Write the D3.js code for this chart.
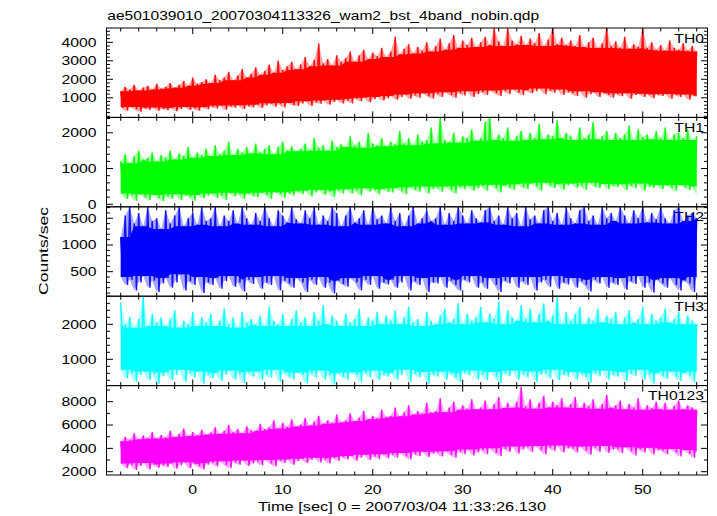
<!DOCTYPE html>
<html><head><meta charset="utf-8">
<script src="https://cdn.jsdelivr.net/npm/d3@7"></script>
<style>body{margin:0;background:#fff}svg{display:block}</style>
</head><body>
<svg id="c" width="717" height="516"></svg>
<script>
// ---- data: light-curve min/max envelopes per 0.5 s bin, from t = -8 s to 56 s ----
const tStart = -8, tStep = 0.5;
const titleText = "ae501039010_20070304113326_wam2_bst_4band_nobin.qdp";
const xLabel = "Time [sec] 0 = 2007/03/04 11:33:26.130";
const yLabel = "Counts/sec";
const seriesNames = ["TH0", "TH1", "TH2", "TH3", "TH0123"];
const seriesColors = ["#ff0000", "#00ff00", "#0000ff", "#00ffff", "#ff00ff"];
const xMajorTicks = [0, 10, 20, 30, 40, 50];

const th0Hi = [1350,1600,1450,1700,1400,1550,1650,1450,1750,1500, 1600,1800,1550,1700,1900,1650,2100,1750,1850,2000,
 1800,2250,1950,2100,2400,1950,2200,2550,2100,2300, 2650,2250,2450,2800,2350,3000,2500,2700,2950,2550,
 2800,3200,2700,3050,3950,2850,3100,2750,3300,2950, 3150,3500,2950,3300,3600,3100,3450,3250,3700,3200,
 3500,4300,3350,3650,3900,3400,3750,3550,4000,3500, 3800,4200,3600,3950,4400,3700,4100,3850,4250,3750,
 4000,4300,3850,4780,4050,3800,4780,4100,3900,4350, 3850,4200,3950,4500,3800,4150,4780,3900,4250,3850,
 4100,3800,4400,3750,4000,4250,3700,3950,4780,3800, 4050,3700,4300,3650,3900,3750,4780,3700,4000,3600,
 3850,3550,4100,3700,3600,3950,3550,3800,3500];
const th0Lo = [450,300,500,380,250,420,350,480,300,400, 330,450,280,400,500,350,420,300,480,380,
 500,420,580,350,520,460,600,400,550,480, 620,450,580,700,520,650,480,720,600,560,
 700,820,560,750,680,850,620,780,900,700, 850,700,950,820,1000,760,920,1050,850,980,
 1100,900,1050,1180,950,1120,1000,1250,1080,950, 1200,1050,1300,1150,1000,1250,1120,1350,1050,1200,
 1300,1150,1400,1250,1100,1350,1200,1450,1280,1150, 1400,1250,1350,1500,1200,1380,1280,1450,1150,1300,
 1250,1100,1350,1000,1200,1300,1050,1250,1150,1000, 1200,1080,1250,950,1150,1220,1050,1180,980,1150,
 1100,1200,950,1150,1050,1180,900,1100,1050];

const th1Hi = [1200,1400,1150,1350,1500,1250,1300,1450,1200,1380, 1300,1500,1250,1420,1350,1600,1300,1450,1380,1550,
 1350,1650,1400,1500,1750,1380,1550,1450,1600,1420, 1700,1450,1550,1650,1400,1600,1750,1500,1620,1480,
 1550,1700,1500,1850,1580,1650,1500,1780,1600,1680, 1600,1900,1650,1750,1580,2000,1700,1650,1850,1620,
 1750,1680,2050,1700,1850,1650,1950,1750,1800,2150, 1700,2440,1800,1750,2000,1720,1900,1850,2100,1780,
 1850,2300,2440,1800,1950,1850,2150,1780,1900,2050, 1800,2000,1850,2250,1820,1950,1900,2350,1850,2000,
 1900,1800,2150,1850,1950,2300,1820,1900,2050,1800, 2000,1850,1950,2200,1800,2100,1880,1950,1820,2050,
 1850,2150,1800,1950,2000,1850,2100,1800,1900];
const th1Lo = [300,150,250,100,280,200,120,260,180,90, 220,150,280,120,250,200,100,260,170,240,
 300,180,250,120,320,220,280,150,300,240, 200,320,260,150,340,280,180,300,250,350,
 280,380,220,330,400,260,350,200,380,300, 420,300,380,250,450,350,400,280,420,360,
 330,450,380,280,480,400,350,500,300,420, 460,350,500,400,300,480,420,520,380,450,
 500,380,550,450,330,520,460,400,560,480, 420,580,500,380,600,520,450,560,400,530,
 580,460,520,400,600,500,450,570,420,520, 480,560,400,520,450,580,380,500,460,540,
 420,520,460,380,540,480,400,500,250];

const th2Hi = [1150,1550,1712,1400,1600,1350,1712,1450,1500,1300, 1650,1400,1550,1712,1350,1500,1600,1380,1712,1450,
 1500,1712,1350,1550,1450,1650,1400,1712,1500,1380, 1600,1450,1712,1500,1350,1650,1550,1420,1712,1480,
 1400,1650,1500,1712,1380,1550,1450,1712,1600,1350, 1550,1712,1420,1500,1650,1380,1712,1480,1550,1400,
 1712,1450,1600,1350,1550,1712,1400,1500,1650,1450, 1500,1712,1380,1600,1450,1712,1550,1400,1650,1500,
 1420,1650,1712,1450,1550,1380,1712,1500,1600,1350, 1712,1480,1550,1400,1650,1712,1450,1600,1380,1712,
 1500,1400,1650,1712,1450,1550,1380,1712,1500,1600, 1450,1712,1550,1400,1650,1500,1712,1420,1600,1480,
 1712,1500,1400,1650,1712,1450,1550,1600,1500];
const th2Lo = [400,250,350,150,300,420,200,330,120,280, 380,200,300,450,150,320,250,400,100,300,
 250,380,180,320,420,220,300,130,350,270, 400,180,300,250,420,150,330,280,200,380,
 300,120,350,250,400,200,300,90,330,270, 220,380,300,150,350,250,420,180,300,260,
 350,200,300,420,150,320,250,380,120,300, 280,400,200,330,250,150,350,300,420,200,
 300,180,380,250,120,330,280,400,200,320, 250,400,150,300,350,220,420,180,300,260,
 380,200,320,250,130,350,280,400,200,300, 250,380,160,320,270,420,200,300,110,350,
 280,200,380,250,150,330,280,120,400];

const th3Hi = [2620,2000,2200,1900,2150,2790,1950,2300,2050,2200, 1950,2150,2400,1900,2100,2000,2350,1950,2200,2050,
 2300,1950,2100,2450,2000,2200,1900,2350,2050,2150, 2000,2250,1950,2500,2100,2000,2300,1950,2150,2400,
 2050,2200,1950,2350,2100,2550,2000,2250,2100,1950, 2300,2050,2150,2450,1950,2200,2100,2350,2000,2250,
 2100,2400,2000,2200,2500,2050,2150,1950,2350,2100, 2000,2250,2450,2050,2150,2600,2000,2300,2100,2200,
 2500,2050,2300,2150,2650,2000,2400,2200,2100,2550, 2150,2450,2050,2300,2600,2100,2250,2790,2000,2350,
 2100,2300,2500,2000,2200,2100,2450,2050,2250,2150, 2350,2000,2200,2400,2050,2150,2500,2000,2300,2100,
 2200,2450,2050,2150,2350,2000,2250,2100,2000];
const th3Lo = [700,450,600,350,550,650,400,580,300,520, 620,400,550,700,350,600,480,650,300,550,
 450,600,380,550,680,420,580,320,620,500, 650,400,550,480,700,350,600,500,420,620,
 550,300,600,480,680,420,560,280,600,500, 420,620,550,350,600,480,680,400,560,500,
 600,420,550,700,350,580,480,640,300,560, 500,650,420,580,480,350,600,540,680,420,
 560,400,640,500,320,600,520,680,420,580, 480,650,350,560,600,450,700,400,560,500,
 640,420,580,500,330,600,520,680,420,560, 500,640,380,580,520,700,420,560,300,600,
 520,440,650,500,380,600,540,350,650];

const th0123Hi = [4600,5000,4750,5300,4800,5100,4900,5400,4850,5150, 4950,5500,5000,5250,5700,5050,5400,5150,5600,5200,
 5350,5800,5250,5500,6000,5400,5650,5300,5900,5550, 5500,6100,5650,5800,6400,5700,6200,5850,6500,5900,
 6050,6600,5950,6300,6800,6100,6400,6200,6900,6250, 6400,7000,6350,6650,7200,6500,6800,6600,7300,6700,
 6800,7500,6750,7100,7700,6900,7200,7000,7900,7100, 7200,8300,7100,7500,8000,7300,7700,7400,8200,7350,
 7500,8100,7350,7800,8400,7450,7900,7500,8000,9300, 7600,8200,7400,7900,8500,7500,8000,7700,8300,7500,
 7800,8400,7450,7900,7600,8200,7400,7800,8600,7500, 7700,8100,7350,7800,7500,8300,7300,7700,7450,8000,
 7400,7900,7300,7650,8100,7350,7700,7500,7300];
const th0123Lo = [2700,2300,2600,2150,2500,2750,2200,2600,2350,2550, 2400,2700,2250,2550,2800,2300,2650,2450,2200,2600,
 2750,2450,2900,2550,2300,2800,2600,2950,2500,2700, 2850,2550,3000,2700,2450,2950,2750,3050,2600,2900,
 3100,2750,3000,3200,2800,3050,2700,3150,2950,3250, 3050,3350,2950,3200,3450,3000,3300,3100,3500,3150,
 3450,3200,3600,3300,3050,3500,3350,3700,3250,3550, 3650,3300,3750,3450,3200,3700,3500,3900,3400,3650,
 3850,3500,4000,3600,3350,3950,3700,4150,3550,3900, 4100,3700,4200,3850,3500,4050,3800,4250,3650,4000,
 4000,3650,4150,3800,3450,4050,3700,4200,3600,3900, 3950,3600,4100,3750,3400,3900,3650,4050,3500,3850,
 3800,3500,3950,3650,3300,3850,3550,3200,3750];

const hiSeries = [th0Hi, th1Hi, th2Hi, th3Hi, th0123Hi];
const loSeries = [th0Lo, th1Lo, th2Lo, th3Lo, th0123Lo];
const yMajorTicks = [[1000,2000,3000,4000],[0,1000,2000],[500,1000,1500],[1000,2000],[2000,4000,6000,8000]];
const yMinorStep = [200, 200, 100, 200, 1000];
const yDomains = [[-60,4775],[-70,2430],[41,1715],[249,2803],[1717,9380]];

// ---- layout ----
const L = 106.5, R = 707.5, T = 28, PH = 89.4;
const FS = 12.6, SX = 1.25;
const FONT = "'Liberation Sans', Arial, Helvetica, sans-serif";
const svg = d3.select("#c");
const x = d3.scaleLinear().domain([-9.58, 57.2]).range([L, R]);
const xMinor = d3.range(-8, 57, 2).filter(v => !xMajorTicks.includes(v));

function label(str, px, py, anchor, rot, sx) {
  svg.append("text")
    .attr("transform", `translate(${px},${py})` + (rot ? ` rotate(${rot})` : "") + ` scale(${sx || SX},1)`)
    .attr("text-anchor", anchor)
    .attr("font-family", FONT).attr("font-size", FS).attr("fill", "#000")
    .text(str);
}

const defs = svg.append("defs");

seriesNames.forEach((name, i) => {
  const top = T + i * PH, bot = top + PH;
  const y = d3.scaleLinear().domain(yDomains[i]).range([bot, top]);
  const hi = hiSeries[i], lo = loSeries[i];
  const n = hi.length;
  const times = hi.map((_, k) => tStart + k * tStep);
  // dense core of the band: lowest max / highest min among the 5 neighbouring bins
  const win = k => [Math.max(0, k - 2), Math.min(n, k + 3)];
  const coreHi = hi.map((_, k) => d3.min(hi.slice(...win(k))));
  const coreLo = lo.map((_, k) => d3.max(lo.slice(...win(k))));

  label(name, 704, top + 14.5, "end");

  defs.append("clipPath").attr("id", "clip" + i)
    .append("rect").attr("x", L).attr("y", top).attr("width", R - L).attr("height", PH);

  const layer = svg.append("g").attr("clip-path", `url(#clip${i})`);
  const col = seriesColors[i];

  // faint full envelope (the anti-aliased fringe of the dense trace)
  const env = d3.area()
    .x((d, k) => x(times[k]))
    .y0((d, k) => y(lo[k]))
    .y1((d, k) => y(hi[k]));
  layer.append("path").attr("d", env(hi)).attr("fill", col).attr("fill-opacity", 0.35).attr("stroke", "none");

  const core = d3.area()
    .x((d, k) => x(times[k]))
    .y0((d, k) => y(coreLo[k]))
    .y1((d, k) => y(coreHi[k]));
  layer.append("path").attr("d", core(hi)).attr("fill", col).attr("stroke", "none");

  // light curve drawn as min/max trace: bin maximum at the bin start, bin minimum at mid-bin
  const trace = [];
  hi.forEach((v, k) => {
    trace.push([times[k], v]);
    if (k < n - 1) trace.push([times[k] + tStep / 2, lo[k]]);
  });
  const line = d3.line().x(d => x(d[0])).y(d => y(d[1]));
  layer.append("path").attr("d", line(trace))
    .attr("fill", "none").attr("stroke", col).attr("stroke-width", 1.5)
    .attr("stroke-linejoin", "bevel").attr("stroke-opacity", 0.9);

  const g = svg.append("g").attr("stroke", "#000").attr("stroke-width", 1).attr("fill", "none");
  g.append("rect").attr("x", L).attr("y", top).attr("width", R - L).attr("height", PH);

  xMajorTicks.forEach(v => {
    const xx = x(v);
    g.append("line").attr("x1", xx).attr("x2", xx).attr("y1", top).attr("y2", top + 6);
    g.append("line").attr("x1", xx).attr("x2", xx).attr("y1", bot).attr("y2", bot - 6);
  });
  xMinor.forEach(v => {
    const xx = x(v);
    g.append("line").attr("x1", xx).attr("x2", xx).attr("y1", top).attr("y2", top + 3.5);
    g.append("line").attr("x1", xx).attr("x2", xx).attr("y1", bot).attr("y2", bot - 3.5);
  });

  const dom = yDomains[i];
  const minors = d3.range(Math.ceil(dom[0] / yMinorStep[i]) * yMinorStep[i], dom[1], yMinorStep[i])
    .filter(v => !yMajorTicks[i].includes(v));
  yMajorTicks[i].forEach(v => {
    const yy = y(v);
    g.append("line").attr("x1", L).attr("x2", L + 6.5).attr("y1", yy).attr("y2", yy);
    g.append("line").attr("x1", R).attr("x2", R - 6.5).attr("y1", yy).attr("y2", yy);
    label(String(v), L - 10, yy + 4.4, "end");
  });
  minors.forEach(v => {
    const yy = y(v);
    g.append("line").attr("x1", L).attr("x2", L + 3.5).attr("y1", yy).attr("y2", yy);
    g.append("line").attr("x1", R).attr("x2", R - 3.5).attr("y1", yy).attr("y2", yy);
  });
});

xMajorTicks.forEach(v => label(String(v), x(v), 494, "middle"));

label(titleText, 107.3, 19.5, "start", 0, 1.235);
label(xLabel, 402, 511, "middle", 0, 1.3);
label(yLabel, 47.5, 251, "middle", -90, 1.4);
</script>
</body></html>
